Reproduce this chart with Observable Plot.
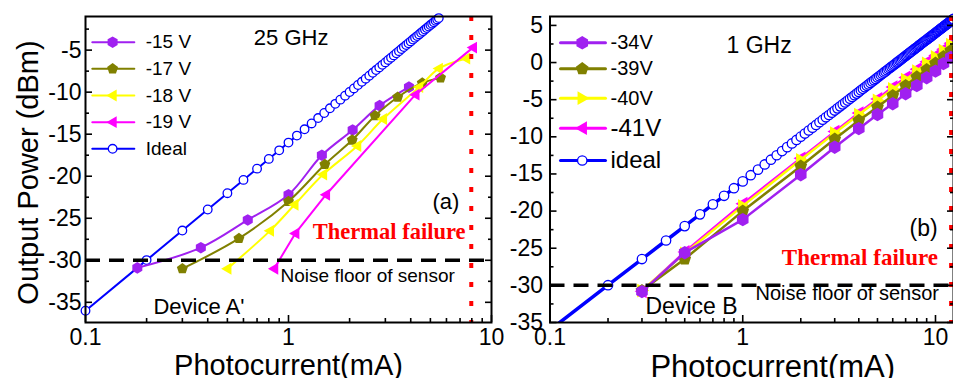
<!DOCTYPE html>
<html><head><meta charset="utf-8">
<script src="https://cdn.jsdelivr.net/npm/d3@7"></script>
<script src="https://cdn.jsdelivr.net/npm/@observablehq/plot@0.6"></script>
<style>
body{margin:0;background:#fff;}
#wrap{position:relative;width:953px;height:378px;overflow:hidden;background:#fff;}
#wrap svg{position:absolute;top:0;}
</style></head><body><div id="wrap"></div>
<script>
// ---------- data ----------
const idealCurrent = [0.1,0.2,0.3,0.4,0.5,0.6,0.7,0.8,0.9,1.0,1.1,1.2,1.3,1.4,1.5,1.6,1.7,1.8,1.9,2.0,2.1,2.2,2.3,2.4,2.5,2.6,2.7,2.8,2.9,3.0,3.1,3.2,3.3,3.4,3.5,3.6,3.7,3.8,3.9,4.0,4.1,4.2,4.3,4.4,4.5,4.6,4.7,4.8,4.9,5.0,5.1,5.2,5.3,5.4,5.5,5.6,5.7,5.8,5.9,6.0,6.1,6.2,6.3,6.4,6.5,6.6,6.7,6.8,6.9,7.0,7.1,7.2,7.3,7.4,7.5,7.6,7.7,7.8,7.9,8.0,8.1,8.2,8.3,8.4,8.5,8.6,8.7,8.8,8.9,9.0,9.1,9.2,9.3,9.4,9.5,9.6,9.7,9.8,9.9,10.0,10.1,10.2,10.3,10.4,10.5,10.6,10.7,10.8,10.9,11.0,11.1,11.2,11.3,11.4,11.5,11.6,11.7,11.8,11.9,12.0,12.1,12.2,12.3,12.4];
const idealPower = [-36.00,-29.98,-26.46,-23.96,-22.02,-20.44,-19.10,-17.94,-16.92,-16.00,-15.17,-14.42,-13.72,-13.08,-12.48,-11.92,-11.39,-10.89,-10.42,-9.98,-9.56,-9.15,-8.77,-8.40,-8.04,-7.70,-7.37,-7.06,-6.75,-6.46,-6.17,-5.90,-5.63,-5.37,-5.12,-4.87,-4.64,-4.40,-4.18,-3.96,-3.74,-3.54,-3.33,-3.13,-2.94,-2.74,-2.56,-2.38,-2.20,-2.02,-1.85,-1.68,-1.51,-1.35,-1.19,-1.04,-0.88,-0.73,-0.58,-0.44,-0.29,-0.15,-0.01,0.12,0.26,0.39,0.52,0.65,0.78,0.90,1.03,1.15,1.27,1.38,1.50,1.62,1.73,1.84,1.95,2.06,2.17,2.28,2.38,2.49,2.59,2.69,2.79,2.89,2.99,3.08,3.18,3.28,3.37,3.46,3.55,3.65,3.74,3.82,3.91,4.00,4.09,4.17,4.26,4.34,4.42,4.51,4.59,4.67,4.75,4.83,4.91,4.98,5.06,5.14,5.21,5.29,5.36,5.44,5.51,5.58,5.66,5.73,5.80,5.87];

// Panel (a) : Device A', 25 GHz
const aCurrent15 = [0.18,0.37,0.63,1.0,1.46,2.07,2.81,3.92];
const aPower15   = [-30.9,-28.5,-25.2,-22.2,-17.5,-14.5,-11.6,-9.4];
const aCurrent17 = [0.3,0.57,1.0,1.51,2.06,2.67,3.45,4.56,5.61];
const aPower17   = [-31.0,-27.4,-23.0,-18.6,-15.7,-12.8,-10.6,-8.9,-8.3];
const aCurrent18 = [0.5,0.81,1.07,1.48,2.18,2.92,4.4,5.5,7.5];
const aPower18   = [-31.0,-26.5,-23.4,-19.8,-16.4,-13.2,-9.4,-7.2,-6.0];
const aCurrent19 = [0.85,1.08,1.53,4.22,8.1];
const aPower19   = [-31.0,-26.8,-22.2,-10.3,-4.7];
const labelsA = ["-15 V","-17 V","-18 V","-19 V","Ideal"];

// Panel (b) : Device B, 1 GHz
const bCurrent = [0.3,0.5,1,2,3,4,5,6,7,8,9,10,11,12];
const bPower34 = [-30.85,-25.6,-21.15,-15.1,-11.4,-8.9,-7.0,-5.55,-4.2,-3.1,-2.05,-1.15,-0.15,0.7];
const bPower39 = [-30.7,-26.45,-20.0,-13.95,-10.3,-7.8,-6.0,-4.45,-3.1,-1.95,-0.95,-0.1,0.8,1.6];
const bPower40 = [-30.7,-25.7,-19.3,-13.1,-9.5,-7.0,-5.1,-3.55,-2.3,-1.15,-0.1,0.75,1.6,2.4];
const bPower41 = [-30.8,-25.5,-19.0,-12.9,-9.3,-6.8,-4.9,-3.3,-2.0,-0.9,0.1,0.95,1.8,2.6];
const labelsB = ["-34V","-39V","-40V","-41V","ideal"];

const noiseFloor = -30;
const thermalA = 7.95;
const thermalB = 12.05;

const xMajor = [0.1, 1, 10];
const xMinor = [0.2,0.3,0.4,0.5,0.6,0.7,0.8,0.9,2,3,4,5,6,7,8,9];
const yMajorA = [-35,-30,-25,-20,-15,-10,-5];
const yMinorA = [-32.5,-27.5,-22.5,-17.5,-12.5,-7.5,-2.5];
const yMajorB = [-35,-30,-25,-20,-15,-10,-5,0,5];
const yMinorB = [-32.5,-27.5,-22.5,-17.5,-12.5,-7.5,-2.5,2.5];

// ---------- symbols ----------
const pentagon = {draw(ctx, size){const r=Math.sqrt(size/Math.PI)*1.15;for(let i=0;i<5;i++){const a=-Math.PI/2+i*2*Math.PI/5;const x=r*Math.cos(a),y=r*Math.sin(a);i?ctx.lineTo(x,y):ctx.moveTo(x,y);}ctx.closePath();}};
const triLeft = {draw(ctx, size){const r=Math.sqrt(size/Math.PI)*1.25;ctx.moveTo(-r,0);ctx.lineTo(r*0.65,-r*0.95);ctx.lineTo(r*0.65,r*0.95);ctx.closePath();}};
const triRight = {draw(ctx, size){const r=Math.sqrt(size/Math.PI)*1.25;ctx.moveTo(r,0);ctx.lineTo(-r*0.65,-r*0.95);ctx.lineTo(-r*0.65,r*0.95);ctx.closePath();}};

const PURPLE="#A020F0", OLIVE="#808000", YELLOW="#FFFF00", MAGENTA="#FF00FF", BLUE="#0000FF", RED="#FF0000";
const SANS="Liberation Sans, Arial, Helvetica, sans-serif";
const SERIF="Liberation Serif, Times New Roman, serif";
const fmt = d => `${d}`;

function axes(yMajor, yMinor, labelSize, yPad, xPad) {
  return [
    Plot.axisY(yMajor, {anchor:"left", tickSize:0, tickPadding:yPad, fontSize:labelSize, tickFormat:fmt, label:null}),
    Plot.axisY(yMajor, {anchor:"left", tickSize:7, dx:7, fill:"none", strokeWidth:1.6, label:null}),
    Plot.axisY(yMinor, {anchor:"left", tickSize:4, dx:4, fill:"none", strokeWidth:1.6, label:null}),
    Plot.axisY(yMajor, {anchor:"right", tickSize:7, dx:-7, fill:"none", strokeWidth:1.6, label:null}),
    Plot.axisY(yMinor, {anchor:"right", tickSize:4, dx:-4, fill:"none", strokeWidth:1.6, label:null}),
    Plot.axisX(xMajor, {anchor:"bottom", tickSize:0, tickPadding:xPad, fontSize:labelSize, tickFormat:fmt, label:null}),
    Plot.axisX(xMajor, {anchor:"bottom", tickSize:7, dy:-7, fill:"none", strokeWidth:1.6, label:null}),
    Plot.axisX(xMinor, {anchor:"bottom", tickSize:4, dy:-4, fill:"none", strokeWidth:1.6, label:null}),
    Plot.frame({stroke:"black", strokeWidth:2})
  ];
}
const txt = (t, x, y, o) => Plot.text([t], {x:[x], y:[y], text:d=>d, lineAnchor:"middle", fill:"black", fontFamily:SANS, ...o});

// ---------- panel (a) ----------
const seriesA = [
  {I:aCurrent15, P:aPower15, color:PURPLE, symbol:"hexagon", curve:"catmull-rom"},
  {I:aCurrent17, P:aPower17, color:OLIVE, symbol:pentagon, curve:"catmull-rom"},
  {I:aCurrent18, P:aPower18, color:YELLOW, symbol:triLeft, curve:"catmull-rom"},
  {I:aCurrent19, P:aPower19, color:MAGENTA, symbol:triLeft, curve:"linear"}
];
const idealA = idealCurrent.map((d,i)=>i).filter(i => idealPower[i] <= -1.19);
const legA = {x1:0.108, x2:0.174, xm:0.136, xt:0.198, rows:[-4.06,-7.22,-10.4,-13.57,-16.74]};

const marksA = [
  Plot.line(idealA, {x:i=>idealCurrent[i], y:i=>idealPower[i], stroke:BLUE, strokeWidth:2}),
  Plot.dot(idealA, {x:i=>idealCurrent[i], y:i=>idealPower[i], stroke:BLUE, fill:"white", r:4.3, strokeWidth:1.3}),
  ...seriesA.flatMap(s => [
    Plot.line(s.I, {x:s.I, y:s.P, stroke:s.color, strokeWidth:2, curve:s.curve}),
    Plot.dot(s.I, {x:s.I, y:s.P, fill:s.color, symbol:s.symbol, r:5})
  ]),
  Plot.ruleY([noiseFloor], {stroke:"black", strokeWidth:3.5, strokeDasharray:"15,9"}),
  Plot.ruleX([thermalA], {stroke:RED, strokeWidth:4, strokeDasharray:"5,14"}),
  // legend
  ...labelsA.flatMap((lab, k) => {
    const c = k < 4 ? seriesA[k].color : BLUE;
    const y = legA.rows[k];
    return [
      Plot.line([legA.x1, legA.x2], {x:d=>d, y:()=>y, stroke:c, strokeWidth:2}),
      k < 4 ? Plot.dot([legA.xm], {x:d=>d, y:()=>y, fill:c, symbol:seriesA[k].symbol, r:5})
            : Plot.dot([legA.xm], {x:d=>d, y:()=>y, stroke:BLUE, fill:"white", r:4.3, strokeWidth:1.3}),
      txt(lab, legA.xt, y, {textAnchor:"start", fontSize:19})
    ];
  }),
  txt("25 GHz", 1.03, -3.5, {fontSize:22}),
  txt("(a)", 6.95, -23.1, {textAnchor:"end", fontSize:22}),
  txt("Thermal failure", 7.45, -26.6, {textAnchor:"end", fontSize:22.5, fontFamily:SERIF, fontWeight:"bold", fill:RED}),
  txt("Noise floor of sensor", 0.914, -31.8, {textAnchor:"start", fontSize:19}),
  txt("Device A'", 0.216, -35.6, {textAnchor:"start", fontSize:22}),
  ...axes(yMajorA, yMinorA, 23, 4, 6),
  Plot.text(["Photocurrent(mA)"], {frameAnchor:"bottom", textAnchor:"middle", dy:43, fontSize:29, lineAnchor:"middle", fontFamily:SANS}),
  Plot.text(["Output Power (dBm)"], {frameAnchor:"left", textAnchor:"middle", dx:-57, dy:3, rotate:-90, fontSize:29, lineAnchor:"middle", fontFamily:SANS})
];

const plotA = Plot.plot({
  width:500, height:378, marginLeft:85, marginRight:9, marginTop:16, marginBottom:56,
  x:{type:"log", domain:[0.1,10], axis:null},
  y:{domain:[-37.4,-1], axis:null},
  style:{background:"transparent", overflow:"visible", fontFamily:SANS, color:"black", maxWidth:"none"},
  marks:marksA
});

// ---------- panel (b) ----------
const seriesB = [
  {P:bPower41, color:MAGENTA, symbol:triLeft},
  {P:bPower40, color:YELLOW, symbol:triRight},
  {P:bPower39, color:OLIVE, symbol:pentagon},
  {P:bPower34, color:PURPLE, symbol:"hexagon"}
];
const legendSymB = [
  {color:PURPLE, symbol:"hexagon"},
  {color:OLIVE, symbol:pentagon},
  {color:YELLOW, symbol:triRight},
  {color:MAGENTA, symbol:triLeft}
];
const idealB = idealCurrent.map((d,i)=>i);
const idealBDots = idealB.filter(i => idealPower[i] >= -35);
const legB = {x1:0.1134, x2:0.194, xm:0.147, xt:0.206, rows:[2.66,-0.84,-4.8,-8.84,-13.19], sizes:[20,20,20,24,24]};

const marksB = [
  Plot.line(idealB, {x:i=>idealCurrent[i], y:i=>idealPower[i], stroke:BLUE, strokeWidth:3.5, clip:true}),
  Plot.dot(idealBDots, {x:i=>idealCurrent[i], y:i=>idealPower[i], stroke:BLUE, fill:"white", r:4.7, strokeWidth:1.3}),
  ...seriesB.flatMap(s => [
    Plot.line(bCurrent, {x:bCurrent, y:s.P, stroke:s.color, strokeWidth:2.5}),
    Plot.dot(bCurrent, {x:bCurrent, y:s.P, fill:s.color, symbol:s.symbol, r:5.8})
  ]),
  Plot.ruleY([noiseFloor], {stroke:"black", strokeWidth:3.5, strokeDasharray:"15,9"}),
  Plot.ruleX([thermalB], {stroke:RED, strokeWidth:4, strokeDasharray:"5,14"}),
  ...labelsB.flatMap((lab, k) => {
    const y = legB.rows[k];
    const c = k < 4 ? legendSymB[k].color : BLUE;
    return [
      Plot.line([legB.x1, legB.x2], {x:d=>d, y:()=>y, stroke:c, strokeWidth:3}),
      k < 4 ? Plot.dot([legB.xm], {x:d=>d, y:()=>y, fill:c, symbol:legendSymB[k].symbol, r:5.8})
            : Plot.dot([legB.xm], {x:d=>d, y:()=>y, stroke:BLUE, fill:"white", r:4.7, strokeWidth:1.3}),
      txt(lab, legB.xt, y, {textAnchor:"start", fontSize:legB.sizes[k]})
    ];
  }),
  txt("1 GHz", 1.215, 2.3, {fontSize:23}),
  txt("(b)", 10.26, -22.3, {textAnchor:"end", fontSize:23}),
  txt("Thermal failure", 10.3, -26.25, {textAnchor:"end", fontSize:23, fontFamily:SERIF, fontWeight:"bold", fill:RED}),
  txt("Noise floor of sensor", 1.165, -31.1, {textAnchor:"start", fontSize:20}),
  txt("Device B", 0.313, -32.85, {textAnchor:"start", fontSize:23}),
  ...axes(yMajorB, yMinorB, 23, 7, 6),
  Plot.text(["Photocurrent(mA)"], {frameAnchor:"bottom", textAnchor:"middle", dx:21, dy:45, fontSize:31, lineAnchor:"middle", fontFamily:SANS})
];

const plotB = Plot.plot({
  width:462, height:378, marginLeft:58.5, marginRight:0, marginTop:16, marginBottom:56,
  x:{type:"log", domain:[0.1,12.4], axis:null},
  y:{domain:[-35,6.2], axis:null},
  style:{background:"transparent", overflow:"visible", fontFamily:SANS, color:"black", maxWidth:"none"},
  marks:marksB
});

const wrap = document.getElementById("wrap");
plotA.style.left = "0px";
plotB.style.left = "491px";
wrap.appendChild(plotA);
wrap.appendChild(plotB);
</script></body></html>
